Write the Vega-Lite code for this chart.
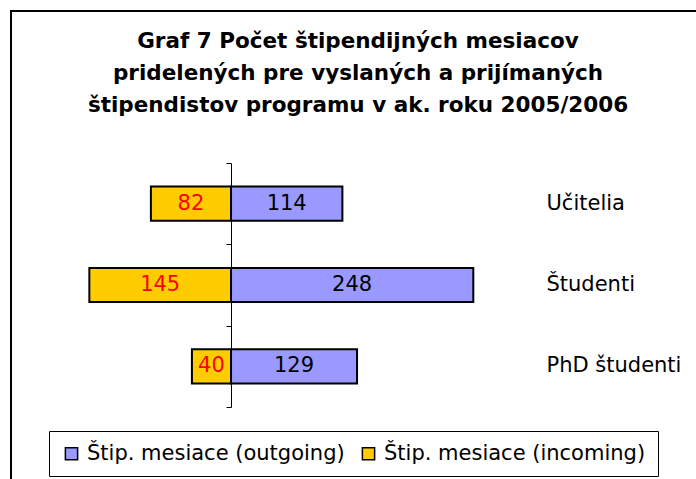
{
  "$schema": "https://vega.github.io/schema/vega-lite/v6.json",
  "usermeta": {"embedOptions": {"actions": false}},
  "width": 696,
  "height": 479,
  "autosize": {"type": "fit", "contains": "padding"},
  "padding": {"left": 11, "top": 11, "right": -40, "bottom": -6},
  "background": "white",
  "title": {
    "text": ["Graf 7 Počet štipendijných mesiacov", "pridelených pre vyslaných a prijímaných", "štipendistov programu v ak. roku 2005/2006"],
    "font": "DejaVu Sans",
    "fontSize": 21.5,
    "fontWeight": "bold",
    "color": "black",
    "anchor": "start",
    "frame": "group",
    "baseline": "alphabetic",
    "align": "center",
    "dx": 347,
    "lineHeight": 32,
    "offset": -122
  },
  "data": {
    "values": [
      {"category": "Učitelia", "series": "Štip. mesiace (outgoing)", "value": 114},
      {"category": "Učitelia", "series": "Štip. mesiace (incoming)", "value": -82},
      {"category": "Študenti", "series": "Štip. mesiace (outgoing)", "value": 248},
      {"category": "Študenti", "series": "Štip. mesiace (incoming)", "value": -145},
      {"category": "PhD študenti", "series": "Štip. mesiace (outgoing)", "value": 129},
      {"category": "PhD študenti", "series": "Štip. mesiace (incoming)", "value": -40}
    ]
  },
  "transform": [
    {"calculate": "abs(datum.value)", "as": "label"},
    {"calculate": "datum.value / 2", "as": "mid"}
  ],
  "layer": [
    {
      "mark": {"type": "bar", "height": {"band": 0.42}, "stroke": "black", "strokeWidth": 2},
      "encoding": {
        "y": {
          "field": "category",
          "type": "nominal",
          "sort": ["Učitelia", "Študenti", "PhD študenti"],
          "scale": {"range": [152, 396], "paddingInner": 0, "paddingOuter": 0},
          "axis": {
            "orient": "left",
            "offset": -220,
            "labels": false,
            "title": null,
            "ticks": true,
            "tickBand": "extent",
            "tickSize": 5,
            "tickColor": "black",
            "tickWidth": 1,
            "domain": true,
            "domainColor": "black",
            "domainWidth": 1,
            "grid": false,
            "zindex": 2
          }
        },
        "x": {
          "field": "value",
          "type": "quantitative",
          "stack": null,
          "scale": {"domain": [-225.2, 516.9], "nice": false, "zero": true},
          "axis": null
        },
        "x2": {"datum": 0},
        "color": {
          "field": "series",
          "type": "nominal",
          "scale": {
            "domain": ["Štip. mesiace (outgoing)", "Štip. mesiace (incoming)"],
            "range": ["#9999FF", "#FFCC00"]
          },
          "legend": {
            "title": null,
            "orient": "none",
            "legendX": 38,
            "legendY": 420,
            "direction": "horizontal",
            "strokeColor": "black",
            "fillColor": "white",
            "padding": 12,
            "columnPadding": 13,
            "symbolType": "square",
            "symbolSize": 150,
            "symbolStrokeColor": "black",
            "symbolStrokeWidth": 1.5,
            "symbolOpacity": 1,
            "labelFont": "DejaVu Sans",
            "labelFontSize": 21,
            "labelColor": "black",
            "labelOffset": 5,
            "labelLimit": 400
          }
        }
      }
    },
    {
      "mark": {"type": "text", "font": "DejaVu Sans", "fontSize": 21, "align": "center", "baseline": "middle"},
      "encoding": {
        "y": {
          "field": "category",
          "type": "nominal",
          "sort": ["Učitelia", "Študenti", "PhD študenti"],
          "axis": {
            "orient": "right",
            "offset": -190,
            "title": null,
            "ticks": false,
            "domain": false,
            "grid": false,
            "labelPadding": 0,
            "labelFont": "DejaVu Sans",
            "labelFontSize": 21,
            "labelColor": "black",
            "labelAlign": "left",
            "labelLimit": 300
          }
        },
        "x": {"field": "mid", "type": "quantitative"},
        "text": {"field": "label", "type": "quantitative"},
        "color": {"condition": {"test": "datum.value < 0", "value": "#FF0000"}, "value": "black"}
      }
    }
  ],
  "resolve": {"axis": {"y": "independent"}},
  "config": {"view": {"stroke": "black", "strokeWidth": 2}}
}
